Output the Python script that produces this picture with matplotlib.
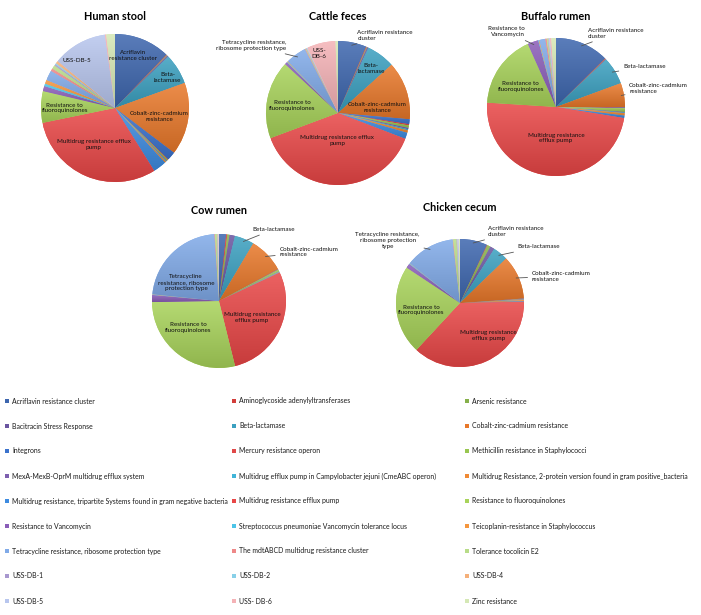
import matplotlib
matplotlib.use('Agg')
import matplotlib.pyplot as plt
import matplotlib.colors as mcolors
import numpy as np

plt.rcParams['font.family'] = ['Lato', 'DejaVu Sans']

W, H = 701, 615

categories = [
    'Acriflavin resistance cluster', 'Aminoglycoside adenylyltransferases', 'Arsenic resistance',
    'Bacitracin Stress Response', 'Beta-lactamase', 'Cobalt-zinc-cadmium resistance',
    'Integrons', 'Mercury resistance operon', 'Methicillin resistance in Staphylococci',
    'MexA-MexB-OprM multidrug efflux system', 'Multidrug efflux pump in Campylobacter jejuni (CmeABC operon)',
    'Multidrug Resistance, 2-protein version found in gram positive_bacteria',
    'Multidrug resistance, tripartite Systems found in gram negative bacteria', 'Multidrug resistance efflux pump',
    'Resistance to fluoroquinolones',
    'Resistance to Vancomycin', 'Streptococcus pneumoniae Vancomycin tolerance locus',
    'Teicoplanin-resistance in Staphylococcus',
    'Tetracycline resistance, ribosome protection type', 'The mdtABCD multidrug resistance cluster',
    'Tolerance tocolicin E2',
    'USS-DB-1', 'USS-DB-2', 'USS-DB-4',
    'USS-DB-5', 'USS- DB-6', 'Zinc resistance',
]

colors = [
    '#3d66ae', '#d23d3a', '#86b04a', '#6a55a0', '#3ba0c0', '#e8782a',
    '#3b72cc', '#e04848', '#98c650', '#7d5faf', '#40b4d8', '#f08a35',
    '#3d8be0', '#e84646', '#a8d35a', '#8a5db8', '#4cc4e8', '#f5963e',
    '#80aae8', '#ee8888', '#b8dc88', '#a898cf', '#88d0e8', '#f5b07a',
    '#b8c6ee', '#f4b2b6', '#d5e8b5',
]

# relative abundance (%), same order as categories
human_stool = [12.2, 0.14, 0.14, 0.28, 6.7, 15.8, 1.9, 0.14, 0.28, 0.14, 0.14, 0.28, 2.9, 30.6,
               6.9, 1.1, 0.56, 0.83, 2.2, 0.56, 0.83, 0.28, 0.28, 0.56, 11.9, 0.28, 1.9]
cattle_feces = [6.4, 0.14, 0.14, 0.28, 6.4, 13.1, 1.1, 0.28, 0.56, 0.28, 0.28, 0.56, 1.4, 38.6,
                17.6, 0.56, 0.14, 0.14, 4.7, 0.14, 0.14, 0.08, 0.08, 0.08, 0.14, 6.4, 0.56]
buffalo_rumen = [12.5, 0.14, 0.08, 0.14, 6.4, 5.6, 0.14, 0.14, 0.83, 0.14, 0.14, 0.56, 0.56, 48.1,
                 17.2, 2.5, 0.14, 0.14, 1.4, 0.28, 0.28, 0.08, 0.08, 0.08, 0.28, 0.28, 1.1]
cow_rumen = [1.7, 0.28, 0.56, 1.3, 4.7, 8.6, 0.08, 0.08, 0.42, 0.08, 0.08, 0.08, 0.08, 28.1,
             28.6, 1.7, 0.08, 0.08, 22.3, 0.14, 0.42, 0.08, 0.08, 0.08, 0.14, 0.08, 0.08]
chicken_cecum = [6.9, 0.14, 0.83, 1.1, 3.8, 11.1, 0.08, 0.08, 0.08, 0.08, 0.08, 0.28, 0.14, 37.2,
                 22.4, 1.1, 0.14, 0.08, 12.5, 0.14, 0.83, 0.08, 0.08, 0.08, 0.28, 0.08, 0.28]

# (title, values, center x, center y, radius) in pixels
pies = [
    ('Human stool', human_stool, 115, 108, 74),
    ('Cattle feces', cattle_feces, 338, 113, 72),
    ('Buffalo rumen', buffalo_rumen, 556, 107, 69),
    ('Cow rumen', cow_rumen, 219, 301, 67),
    ('Chicken cecum', chicken_cecum, 460, 303, 64),
]
title_y = [17, 16, 16, 211, 208]

# inside labels: (category index, text, x, y) in radius units
inside = {
    'Human stool': [(0, 'Acriflavin\nresistance cluster', 0.24, 0.71), (4, 'Beta-\nlactamase', 0.71, 0.41),
                    (5, 'Cobalt-zinc-cadmium\nresistance', 0.6, -0.11),
                    (13, 'Multidrug resistance efflux\npump', -0.29, -0.49),
                    (14, 'Resistance to\nfluoroquinolones', -0.68, 0.0), (24, 'USS-DB-5', -0.51, 0.64)],
    'Cattle feces': [(4, 'Beta-\nlactamase', 0.46, 0.62), (5, 'Cobalt-zinc-cadmium\nresistance', 0.54, 0.08),
                     (13, 'Multidrug resistance efflux\npump', -0.01, -0.38),
                     (14, 'Resistance to\nfluoroquinolones', -0.64, 0.1), (25, 'USS-\nDB-6', -0.26, 0.83)],
    'Buffalo rumen': [(13, 'Multidrug resistance\nefflux pump', 0.0, -0.45),
                      (14, 'Resistance to\nfluoroquinolones', -0.51, 0.3)],
    'Cow rumen': [(18, 'Tetracycline\nresistance, ribosome\nprotection type', -0.49, 0.28),
                  (13, 'Multidrug resistance\nefflux pump', 0.49, -0.25),
                  (14, 'Resistance to\nfluoroquinolones', -0.46, -0.4)],
    'Chicken cecum': [(14, 'Resistance to\nfluoroquinolones', -0.6, -0.11),
                      (13, 'Multidrug resistance\nefflux pump', 0.44, -0.51)],
}
# outside labels with leader lines: (category index, text, x, y, ha)
outside = {
    'Cattle feces': [(0, 'Acriflavin resistance\ncluster', 0.27, 1.08, 'left'),
                     (18, 'Tetracycline resistance,\nribosome protection type', -0.72, 0.94, 'right')],
    'Buffalo rumen': [(0, 'Acriflavin resistance\ncluster', 0.46, 1.07, 'left'),
                      (4, 'Beta-lactamase', 0.97, 0.58, 'left'),
                      (5, 'Cobalt-zinc-cadmium\nresistance', 1.06, 0.27, 'left'),
                      (15, 'Resistance to\nVancomycin', -0.45, 1.09, 'right')],
    'Cow rumen': [(4, 'Beta-lactamase', 0.5, 1.07, 'left'),
                  (5, 'Cobalt-zinc-cadmium\nresistance', 0.9, 0.73, 'left')],
    'Chicken cecum': [(0, 'Acriflavin resistance\ncluster', 0.43, 1.12, 'left'),
                      (4, 'Beta-lactamase', 0.9, 0.88, 'left'),
                      (5, 'Cobalt-zinc-cadmium\nresistance', 1.12, 0.42, 'left'),
                      (18, 'Tetracycline resistance,\nribosome protection\ntype', -1.13, 0.98, 'center')],
}

fig = plt.figure(figsize=(W / 100, H / 100), dpi=100)


def shade(ax, wedges, cols):
    # Excel-like vertical gradient inside each slice
    t = np.linspace(0, 1, 64)[:, None, None]
    for w, c in zip(wedges, cols):
        rgb = np.array(mcolors.to_rgb(c))
        top = rgb + (1 - rgb) * 0.15
        bot = rgb * 0.86
        img = top * (1 - t) + bot * t
        ext = w.get_path().get_extents()
        im = ax.imshow(img, extent=(ext.x0, ext.x1, ext.y0, ext.y1), origin='upper',
                       aspect='auto', interpolation='bilinear', zorder=2)
        im.set_clip_path(w)


for (title, vals, cx, cy, r), ty in zip(pies, title_y):
    ax = fig.add_axes([(cx - r) / W, (H - cy - r) / H, 2 * r / W, 2 * r / H])
    wedges, _ = ax.pie(vals, colors=colors, startangle=90, counterclock=False, radius=1,
                       wedgeprops=dict(linewidth=0))
    shade(ax, wedges, colors)
    ax.set_xlim(-1, 1)
    ax.set_ylim(-1, 1)
    ax.axis('off')
    fig.text(cx / W, 1 - ty / H, title, ha='center', va='center', fontsize=7.8, fontweight='bold')
    for i, txt, x, y in inside.get(title, []):
        ax.text(x, y, txt, ha='center', va='center', fontsize=4.5, color='#111111', zorder=5)
    for i, txt, x, y, ha in outside.get(title, []):
        w = wedges[i]
        mid = np.deg2rad((w.theta1 + w.theta2) / 2)
        ax.annotate(txt, xy=(0.96 * np.cos(mid), 0.96 * np.sin(mid)), xytext=(x, y),
                    ha=ha, va='center', fontsize=4.5, color='#111111', zorder=5,
                    arrowprops=dict(arrowstyle='-', color='#555555', lw=0.6,
                                    shrinkA=1, shrinkB=0))

# legend, 3 columns filled row by row
lax = fig.add_axes([0, 0, 1, 1])
lax.set_xlim(0, W)
lax.set_ylim(H, 0)
lax.axis('off')
col_x = [7, 234, 467]
for k, (name, c) in enumerate(zip(categories, colors)):
    x = col_x[k % 3]
    y = 401 + 25 * (k // 3)
    lax.scatter([x], [y], marker='s', s=7, color=c, linewidths=0)
    lax.text(x + 5, y, name, ha='left', va='center', fontsize=4.95, color='#1a1a1a')

fig.savefig('out.png', dpi=100)
